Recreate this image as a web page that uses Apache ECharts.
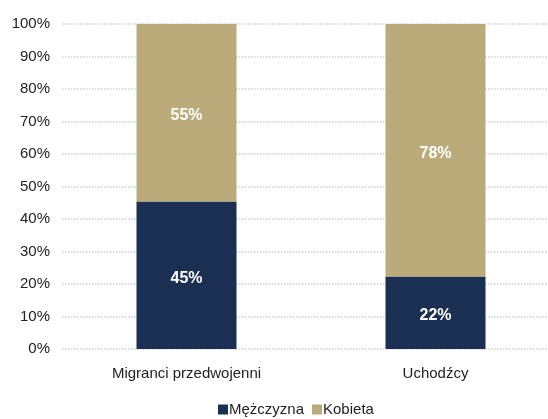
<!DOCTYPE html>
<html>
<head>
<meta charset="utf-8">
<script src="https://cdn.jsdelivr.net/npm/echarts@6/dist/echarts.min.js"></script>
<style>
  html, body { margin: 0; padding: 0; background: #fff; }
  #chart { width: 548px; height: 419px; }
</style>
</head>
<body>
<div id="chart"></div>
<script>
const categories = ["Migranci przedwojenni", "Uchodźcy"];
const menValues = [45.4, 22.3];
const womenValues = [54.6, 77.7];
const menLabels = ["45%", "22%"];
const womenLabels = ["55%", "78%"];

const FONT = "'Liberation Sans Narrow', 'Arial Narrow', 'Liberation Sans', sans-serif";

const chart = echarts.init(document.getElementById("chart"));

const labelStyle = (texts) => ({
  show: true,
  position: "inside",
  offset: [0, 3],
  color: "#fff",
  fontWeight: "bold",
  fontSize: 16,
  fontFamily: FONT,
  formatter: (p) => texts[p.dataIndex],
});

chart.setOption({
  animation: false,
  textStyle: { fontFamily: FONT },
  grid: { left: 62, width: 498, top: 24, bottom: 70, outerBoundsMode: "none", containLabel: false },
  legend: {
    bottom: -3,
    left: 213,
    itemWidth: 10,
    itemHeight: 10,
    itemGap: 8,
    icon: "rect",
    textStyle: { fontFamily: FONT, fontSize: 15, color: "#222", padding: [0, 0, 0, -4] },
    data: ["Mężczyzna", "Kobieta"],
  },
  xAxis: {
    type: "category",
    data: categories,
    axisLine: { show: false },
    axisTick: { show: false },
    axisLabel: { color: "#222", fontSize: 15, fontFamily: FONT, margin: 17 },
  },
  yAxis: {
    type: "value",
    min: 0,
    max: 100,
    interval: 10,
    axisLine: { show: false },
    axisTick: { show: false },
    axisLabel: { color: "#222", fontSize: 15, fontFamily: FONT, margin: 12, formatter: "{value}%" },
    splitLine: { lineStyle: { color: "#d0d0d0", type: "dotted", width: 1.5 } },
  },
  series: [
    {
      name: "Mężczyzna",
      type: "bar",
      stack: "total",
      barWidth: 100,
      data: menValues,
      itemStyle: { color: "#1b2f53" },
      label: labelStyle(menLabels),
    },
    {
      name: "Kobieta",
      type: "bar",
      stack: "total",
      barWidth: 100,
      data: womenValues,
      itemStyle: { color: "#bcab7a" },
      label: labelStyle(womenLabels),
    },
  ],
});
</script>
</body>
</html>
